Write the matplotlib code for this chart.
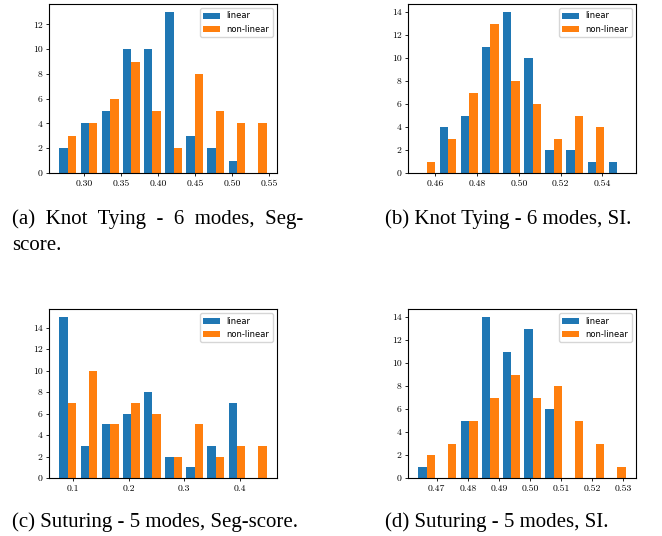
import numpy as np
import matplotlib
matplotlib.use('Agg')
import matplotlib.pyplot as plt

# bin counts (10 bins each)
knot_seg_lin = [2, 4, 5, 10, 10, 13, 3, 2, 1, 0]
knot_seg_non = [3, 4, 6, 9, 5, 2, 8, 5, 4, 4]
knot_seg_range = (0.2632, 0.5495)

knot_si_lin = [0, 4, 5, 11, 14, 10, 2, 2, 1, 1]
knot_si_non = [1, 3, 7, 13, 8, 6, 3, 5, 4, 0]
knot_si_range = (0.4509, 0.5521)

sut_seg_lin = [15, 3, 5, 6, 8, 2, 1, 3, 7, 0]
sut_seg_non = [7, 10, 5, 7, 6, 2, 5, 2, 3, 3]
sut_seg_range = (0.0709, 0.4527)

sut_si_lin = [1, 0, 5, 14, 11, 13, 6, 0, 0, 0]
sut_si_non = [2, 3, 5, 7, 9, 7, 8, 5, 3, 1]
sut_si_range = (0.4634, 0.5314)

# first caption line is justified in the reference, hence the double spaces
captions = [['(a)  Knot  Tying  -  6  modes,  Seg-', 'score.'],
            ['(b) Knot Tying - 6 modes, SI.'],
            ['(c) Suturing - 5 modes, Seg-score.'],
            ['(d) Suturing - 5 modes, SI.']]

panels = [(knot_seg_lin, knot_seg_non, knot_seg_range, [0.30, 0.35, 0.40, 0.45, 0.50, 0.55], '%.2f'),
          (knot_si_lin, knot_si_non, knot_si_range, [0.46, 0.48, 0.50, 0.52, 0.54], '%.2f'),
          (sut_seg_lin, sut_seg_non, sut_seg_range, [0.1, 0.2, 0.3, 0.4], '%.1f'),
          (sut_si_lin, sut_si_non, sut_si_range, [0.47, 0.48, 0.49, 0.50, 0.51, 0.52, 0.53], '%.2f')]

# axes boxes in pixels: left, top, right, bottom
boxes = [(49, 4, 277, 173), (408, 4, 636, 173), (49, 309, 277, 478), (408, 309, 636, 478)]
# caption left x and first baseline y, in pixels
cap_pos = [(12, 224), (385, 224), (12, 527), (385, 527)]

W, H = 662, 536
fig = plt.figure(figsize=(W / 100, H / 100), dpi=100)

for (lin, non, rng, ticks, fmt), box, cap, cp in zip(panels, boxes, captions, cap_pos):
    l, t, r, b = box
    ax = fig.add_axes([l / W, 1 - b / H, (r - l) / W, (b - t) / H])
    edges = np.linspace(rng[0], rng[1], len(lin) + 1)
    centers = (edges[:-1] + edges[1:]) / 2
    ax.hist([centers, centers], bins=edges, weights=[lin, non],
            color=['#1f77b4', '#ff7f0e'], label=['linear', 'non-linear'])
    ax.set_xticks(ticks)
    ax.set_xticklabels([fmt % v for v in ticks])
    top = max(max(lin), max(non))
    ax.set_yticks(range(0, top + 1, 2))
    for lab in ax.get_xticklabels() + ax.get_yticklabels():
        lab.set_family('cmr10')
        lab.set_fontsize(7)
    ax.tick_params(length=2.5, width=0.6, pad=2)
    for s in ax.spines.values():
        s.set_linewidth(0.8)
    ax.legend(loc='upper right', fontsize=6)
    for i, line in enumerate(cap):
        fig.text(cp[0] / W, 1 - (cp[1] + 26 * i) / H, line, family='Liberation Serif',
                 fontsize=15, ha='left', va='baseline')

fig.savefig('out.png', dpi=100)
